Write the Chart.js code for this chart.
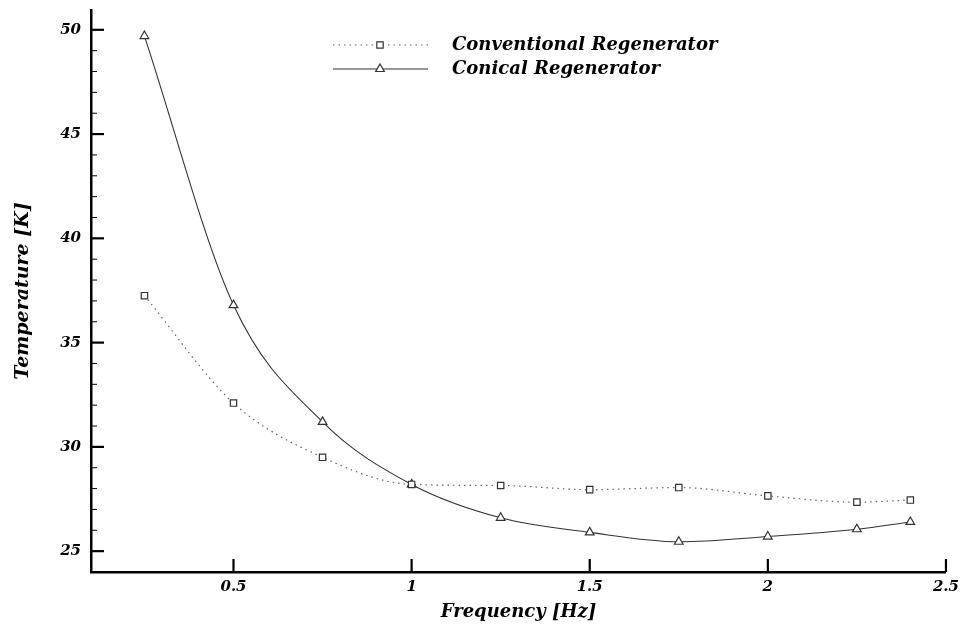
<!DOCTYPE html>
<html>
<head>
<meta charset="utf-8">
<script src="https://cdn.jsdelivr.net/npm/chart.js@4"></script>
<style>
    html, body { margin: 0; padding: 0; background: #fff; }
    #wrap { width: 965px; height: 630px; }
</style>
</head>
<body>
<div id="wrap"><canvas id="tempChart" width="965" height="630"></canvas></div>
<script>

const frequency = [0.25, 0.5, 0.75, 1.0, 1.25, 1.5, 1.75, 2.0, 2.25, 2.4];

const conventional = [37.25, 32.1, 29.5, 28.2, 28.15, 27.95, 28.05, 27.65, 27.35, 27.45];

const conical = [49.7, 36.8, 31.2, 28.2, 26.6, 25.9, 25.45, 25.7, 26.05, 26.4];

const xTickValues = [0.5, 1, 1.5, 2, 2.5];
const yTickValues = [25, 30, 35, 40, 45, 50];

const seriesNames = ["Conventional Regenerator", "Conical Regenerator"];

const serif = "'DejaVu Serif', 'Liberation Serif', serif";


/* inward tick marks on both axes */

const insideTicks = {

    id: "insideTicks",

    afterDraw(chart) {

        const c = chart.ctx;
        const area = chart.chartArea;
        const xs = chart.scales.x;
        const ys = chart.scales.y;

        c.save();
        c.strokeStyle = "#000";

        ys.ticks.forEach(t => {
            const y = ys.getPixelForValue(t.value);
            const major = yTickValues.includes(t.value);
            c.lineWidth = major ? 2.2 : 1;
            c.beginPath();
            c.moveTo(area.left, y);
            c.lineTo(area.left + (major ? 13 : 6), y);
            c.stroke();
        });

        xs.ticks.forEach(t => {
            const x = xs.getPixelForValue(t.value);
            c.lineWidth = 2.2;
            c.beginPath();
            c.moveTo(x, area.bottom);
            c.lineTo(x, area.bottom - 13);
            c.stroke();
        });

        c.restore();
    }
};


/* legend: line sample + marker + label */

const sampleLegend = {

    id: "sampleLegend",

    afterDraw(chart) {

        const c = chart.ctx;
        const rows = [45, 69];

        c.save();

        chart.data.datasets.forEach((ds, i) => {

            const y = rows[i];

            c.strokeStyle = ds.borderColor;
            c.lineWidth = ds.borderWidth;
            c.setLineDash(ds.borderDash || []);
            c.beginPath();
            c.moveTo(333, y);
            c.lineTo(428, y);
            c.stroke();
            c.setLineDash([]);

            c.fillStyle = "#fff";
            c.strokeStyle = ds.pointBorderColor;
            c.lineWidth = ds.pointBorderWidth;
            Chart.helpers.drawPoint(c, {
                pointStyle: ds.pointStyle,
                radius: ds.pointRadius,
                borderWidth: ds.pointBorderWidth
            }, 380, y);

            c.fillStyle = "#000";
            c.font = "italic bold 18px " + serif;
            c.textBaseline = "middle";
            c.textAlign = "left";
            c.fillText(ds.label, 452, y);
        });

        c.restore();
    }
};


const ctx = document.getElementById("tempChart");

new Chart(ctx, {

    type: "line",

    data: {

        datasets: [

            {
                label: seriesNames[0],
                data: frequency.map((f, i) => ({ x: f, y: conventional[i] })),
                borderColor: "#666",
                borderWidth: 1.2,
                borderDash: [1.5, 4],
                cubicInterpolationMode: "monotone",
                pointStyle: "rect",
                pointRadius: 4.5,
                pointBorderWidth: 1.2,
                pointBorderColor: "#333",
                pointBackgroundColor: "#fff"
            },

            {
                label: seriesNames[1],
                data: frequency.map((f, i) => ({ x: f, y: conical[i] })),
                borderColor: "#333",
                borderWidth: 1.1,
                cubicInterpolationMode: "monotone",
                pointStyle: "triangle",
                pointRadius: 5,
                pointBorderWidth: 1.2,
                pointBorderColor: "#333",
                pointBackgroundColor: "#fff"
            }

        ]
    },

    plugins: [insideTicks, sampleLegend],

    options: {

        responsive: false,
        animation: false,

        layout: {
            padding: { top: 10, right: 19, left: 0, bottom: 0 }
        },

        plugins: {
            legend: { display: false },
            tooltip: { enabled: false }
        },

        scales: {

            x: {
                type: "linear",
                min: 0.1,
                max: 2.5,
                afterBuildTicks: s => {
                    s.ticks = xTickValues.map(v => ({ value: v }));
                },
                afterFit: s => { s.height = 58; },
                grid: { display: false, drawTicks: false },
                border: { display: true, color: "#000", width: 2.5 },
                ticks: {
                    color: "#000",
                    padding: 6,
                    maxRotation: 0,
                    font: { family: serif, size: 15, style: "italic", weight: "bold" },
                    callback: v => String(v)
                },
                title: {
                    display: true,
                    text: "Frequency [Hz]",
                    color: "#000",
                    padding: { top: 0, bottom: 7 },
                    font: { family: serif, size: 18, style: "italic", weight: "bold" }
                }
            },

            y: {
                min: 24,
                max: 50.95,
                afterBuildTicks: s => {
                    const list = [];
                    for (let v = 25; v <= 50; v++) list.push({ value: v });
                    s.ticks = list;
                },
                afterFit: s => {
                    s.width = 91;
                    s.paddingTop = 0;
                    s.paddingBottom = 0;
                },
                grid: { display: false, drawTicks: false },
                border: { display: true, color: "#000", width: 2.5 },
                ticks: {
                    color: "#000",
                    padding: 10,
                    autoSkip: false,
                    font: { family: serif, size: 15, style: "italic", weight: "bold" },
                    callback: v => yTickValues.includes(v) ? String(v) : ""
                },
                title: {
                    display: true,
                    text: "Temperature [K]",
                    color: "#000",
                    padding: { top: 12, bottom: 0 },
                    font: { family: serif, size: 19, style: "italic", weight: "bold" }
                }
            }

        }
    }

});

</script>
</body>
</html>
